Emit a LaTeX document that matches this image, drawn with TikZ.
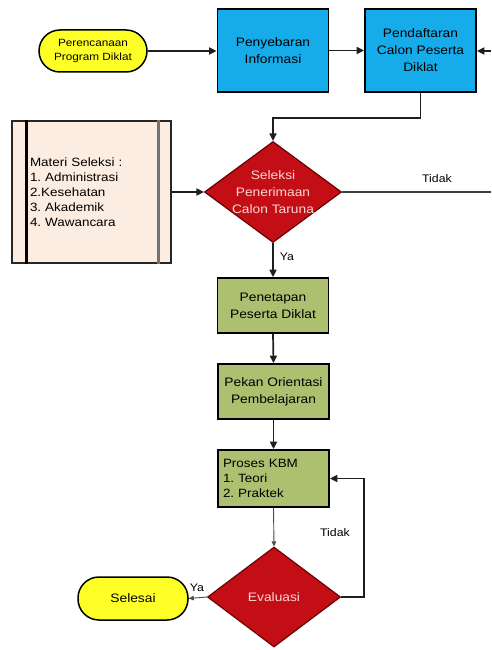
\documentclass[tikz,border=0pt]{standalone}
\usepackage{fontspec}
\setmainfont{Liberation Sans}[FakeStretch=1.12]
\usetikzlibrary{shapes.geometric,arrows.meta,calc}

\definecolor{termyellow}{RGB}{255,255,40}
\definecolor{procblue}{RGB}{22,172,234}
\definecolor{procgreen}{RGB}{172,192,112}
\definecolor{decred}{RGB}{196,14,22}
\definecolor{decedge}{RGB}{105,0,0}
\definecolor{dectext}{RGB}{250,214,214}
\definecolor{notepeach}{RGB}{252,237,226}
\definecolor{wire}{RGB}{30,30,30}

\frenchspacing
\begin{document}
\begin{tikzpicture}[x=1pt,y=-1pt,
  font=\fontsize{12.3}{17}\selectfont,
  box/.style={rectangle, draw=black, line width=1.8pt, align=center, inner sep=2pt},
  bluebox/.style={box, fill=procblue, minimum width=111pt, minimum height=83pt},
  greenbox/.style={box, fill=procgreen, minimum width=111pt, minimum height=55pt},
  terminal/.style={rectangle, rounded corners=21pt, draw=black, line width=1.5pt,
    fill=termyellow, align=center, inner sep=2pt},
  decision/.style={diamond, draw=decedge, line width=1.2pt, fill=decred,
    text=dectext, align=center, inner sep=-2pt, shape aspect=1.36},
  notebox/.style={rectangle, draw=black!85, line width=1.1pt, fill=notepeach,
    inner xsep=18pt, text width=123pt, align=left, minimum height=142pt,
    font=\fontsize{12}{15}\selectfont},
  flow/.style={draw=wire, line width=1.7pt, -{Triangle[length=7.5pt,width=7pt]}},
  thinflow/.style={draw=wire!80, line width=0.9pt, -{Triangle[length=5pt,width=4.5pt]}},
  wireline/.style={draw=wire!85, line width=1.4pt},
  lbl/.style={font=\fontsize{11}{13}\selectfont, inner sep=1pt}
]
\useasboundingbox (0,0) rectangle (491,650);

% upper row: start, information, registration
\node[terminal, minimum width=108pt, minimum height=42pt,
  font=\fontsize{10.5}{14}\selectfont] (start) at (93,51) {Perencanaan\\Program Diklat};
\node[bluebox] (info) at (273,50.5) {Penyebaran\\Informasi};
\node[bluebox] (daftar) at (420.5,50.5) {Pendaftaran\\Calon Peserta\\Diklat};
\coordinate (inR) at (491,51);

% selection step with its material list
\node[decision, minimum width=137pt, minimum height=101pt] (seleksi) at (273,192)
  {Seleksi\\Penerimaan\\Calon Taruna};
\node[notebox, minimum width=159pt] (materi) at (91.5,192)
  {Materi Seleksi :\\1. Administrasi\\2.Kesehatan\\3. Akademik\\4. Wawancara};
\draw[line width=2.6pt, black] ([xshift=15pt]materi.north west) -- ([xshift=15pt]materi.south west);
\draw[line width=2.6pt, black!55] ([xshift=-13pt]materi.north east) -- ([xshift=-13pt]materi.south east);
\coordinate (outR) at (491,192);

% training steps
\node[greenbox] (tetap) at (273,305.5) {Penetapan\\Peserta Diklat};
\node[greenbox] (pekan) at (273.5,391.5) {Pekan Orientasi\\Pembelajaran};
\node[greenbox, minimum height=57pt, align=left, inner xsep=5pt, text width=101pt,
  font=\fontsize{12}{15}\selectfont] (kbm) at (273.5,478.5)
  {Proses KBM\\1. Teori\\2. Praktek};

% evaluation and end
\node[decision, minimum width=133pt, minimum height=100pt] (eval) at (274,597) {Evaluasi};
\node[terminal, minimum width=110pt, minimum height=43pt] (selesai) at (133,598.5) {Selesai};

% connectors
\draw[flow] (start.east) -- (start.east -| info.west);
\draw[flow] (info.east) -- (info.east -| daftar.west);
\draw[flow] (inR) -- (inR -| daftar.east);
\draw[flow] (daftar.south) -- ++(0,25) -| (seleksi.north);
\draw[flow] (materi.east) -- (materi.east -| seleksi.west);
\draw[wireline] (seleksi.east) -- (outR);
\node[lbl] (tidak1) at (437,179) {Tidak};
\draw[flow] (seleksi.south) -- (tetap.north);
\node[lbl] (ya1) at (287,257) {Ya};
\draw[flow] (tetap.south) -- (pekan.north);
\draw[flow] (pekan.south) -- (kbm.north);
\draw[thinflow] (kbm.south) -- (eval.north);
\draw[flow] (eval.east) -- ++(23,0) |- (kbm.east);
\node[lbl] (tidak2) at (335,533) {Tidak};
\draw[thinflow] (eval.west) -- (selesai.east);
\node[lbl] (ya2) at (197,588) {Ya};
\end{tikzpicture}
\end{document}
